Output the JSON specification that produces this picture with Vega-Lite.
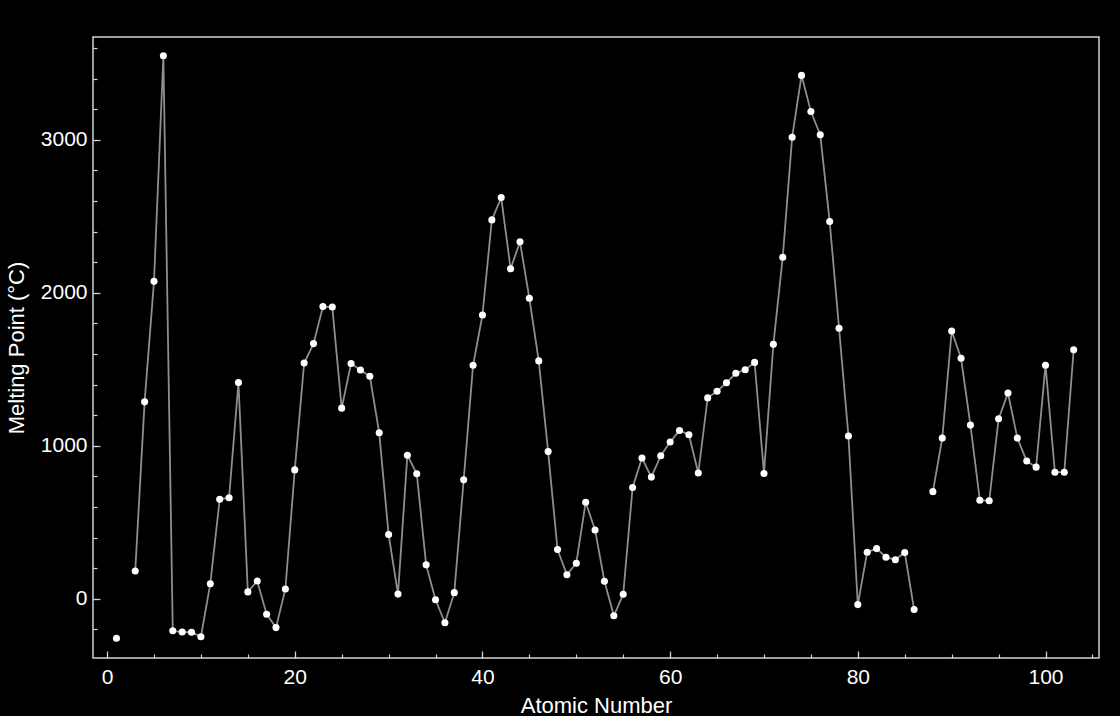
{
  "$schema": "https://vega.github.io/schema/vega-lite/v6.json",
  "autosize": "none",
  "width": 1006,
  "height": 621,
  "padding": {"left": 93, "top": 37, "right": 21, "bottom": 58},
  "background": "#000000",
  "config": {
    "view": {"stroke": "#d4d4d4", "strokeWidth": 1.5, "fill": "#000000"},
    "axis": {
      "domain": false,
      "grid": false,
      "labelFont": "Liberation Sans",
      "labelFontSize": 21,
      "labelColor": "#ffffff",
      "labelFlush": false,
      "titleFont": "Liberation Sans",
      "titleFontSize": 22,
      "titleFontWeight": "normal",
      "titleColor": "#ffffff",
      "tickColor": "#d4d4d4",
      "tickWidth": 1.2
    }
  },
  "data": {
    "values": [
      {"n": 1, "mp": -259.14}, {"n": 2, "mp": null}, {"n": 3, "mp": 180.54}, {"n": 4, "mp": 1287},
      {"n": 5, "mp": 2075}, {"n": 6, "mp": 3550}, {"n": 7, "mp": -210.1}, {"n": 8, "mp": -218.3},
      {"n": 9, "mp": -219.6}, {"n": 10, "mp": -248.59}, {"n": 11, "mp": 97.72}, {"n": 12, "mp": 650},
      {"n": 13, "mp": 660.32}, {"n": 14, "mp": 1414}, {"n": 15, "mp": 44.2}, {"n": 16, "mp": 115.21},
      {"n": 17, "mp": -101.5}, {"n": 18, "mp": -189.3}, {"n": 19, "mp": 63.38}, {"n": 20, "mp": 842},
      {"n": 21, "mp": 1541}, {"n": 22, "mp": 1668}, {"n": 23, "mp": 1910}, {"n": 24, "mp": 1907},
      {"n": 25, "mp": 1246}, {"n": 26, "mp": 1538}, {"n": 27, "mp": 1495}, {"n": 28, "mp": 1455},
      {"n": 29, "mp": 1084.62}, {"n": 30, "mp": 419.53}, {"n": 31, "mp": 29.76}, {"n": 32, "mp": 938.3},
      {"n": 33, "mp": 817}, {"n": 34, "mp": 221}, {"n": 35, "mp": -7.3}, {"n": 36, "mp": -157.36},
      {"n": 37, "mp": 39.31}, {"n": 38, "mp": 777}, {"n": 39, "mp": 1526}, {"n": 40, "mp": 1855},
      {"n": 41, "mp": 2477}, {"n": 42, "mp": 2623}, {"n": 43, "mp": 2157}, {"n": 44, "mp": 2334},
      {"n": 45, "mp": 1964}, {"n": 46, "mp": 1554.9}, {"n": 47, "mp": 961.78}, {"n": 48, "mp": 321.07},
      {"n": 49, "mp": 156.6}, {"n": 50, "mp": 231.93}, {"n": 51, "mp": 630.63}, {"n": 52, "mp": 449.51},
      {"n": 53, "mp": 113.7}, {"n": 54, "mp": -111.8}, {"n": 55, "mp": 28.44}, {"n": 56, "mp": 727},
      {"n": 57, "mp": 920}, {"n": 58, "mp": 795}, {"n": 59, "mp": 935}, {"n": 60, "mp": 1024},
      {"n": 61, "mp": 1100}, {"n": 62, "mp": 1072}, {"n": 63, "mp": 822}, {"n": 64, "mp": 1313},
      {"n": 65, "mp": 1356}, {"n": 66, "mp": 1412}, {"n": 67, "mp": 1474}, {"n": 68, "mp": 1497},
      {"n": 69, "mp": 1545}, {"n": 70, "mp": 819}, {"n": 71, "mp": 1663}, {"n": 72, "mp": 2233},
      {"n": 73, "mp": 3017}, {"n": 74, "mp": 3422}, {"n": 75, "mp": 3186}, {"n": 76, "mp": 3033},
      {"n": 77, "mp": 2466}, {"n": 78, "mp": 1768.3}, {"n": 79, "mp": 1064.18}, {"n": 80, "mp": -38.83},
      {"n": 81, "mp": 304}, {"n": 82, "mp": 327.46}, {"n": 83, "mp": 271.3}, {"n": 84, "mp": 254},
      {"n": 85, "mp": 302}, {"n": 86, "mp": -71}, {"n": 87, "mp": null}, {"n": 88, "mp": 700},
      {"n": 89, "mp": 1050}, {"n": 90, "mp": 1750}, {"n": 91, "mp": 1572}, {"n": 92, "mp": 1135},
      {"n": 93, "mp": 644}, {"n": 94, "mp": 640}, {"n": 95, "mp": 1176}, {"n": 96, "mp": 1345},
      {"n": 97, "mp": 1050}, {"n": 98, "mp": 900}, {"n": 99, "mp": 860}, {"n": 100, "mp": 1527},
      {"n": 101, "mp": 827}, {"n": 102, "mp": 827}, {"n": 103, "mp": 1627}
    ]
  },
  "layer": [
    {
      "mark": {"type": "line", "color": "#8e8e8e", "strokeWidth": 1.8},
      "encoding": {
        "x": {
          "field": "n", "type": "quantitative",
          "scale": {"domain": [-1.5, 105.7], "nice": false, "zero": false},
          "axis": {
            "orient": "bottom",
            "values": [0, 20, 40, 60, 80, 100],
            "format": "d",
            "tickSize": -7,
            "labelPadding": 15,
            "title": "Atomic Number",
            "titleY": 54,
            "titleBaseline": "alphabetic"
          }
        },
        "y": {
          "field": "mp", "type": "quantitative",
          "scale": {"domain": [-388, 3673], "nice": false, "zero": false},
          "axis": {
            "orient": "left",
            "values": [0, 1000, 2000, 3000],
            "format": "d",
            "tickSize": -7,
            "labelPadding": 13,
            "title": "Melting Point (°C)",
            "titleX": -77,
            "titleY": 310.5,
            "titleAngle": -90,
            "titleAlign": "center",
            "titleBaseline": "middle"
          }
        }
      }
    },
    {
      "mark": {"type": "point", "filled": true, "color": "#ffffff", "opacity": 1, "size": 50},
      "encoding": {
        "x": {
          "field": "n", "type": "quantitative",
          "axis": {
            "orient": "bottom",
            "values": [0, 5, 10, 15, 20, 25, 30, 35, 40, 45, 50, 55, 60, 65, 70, 75, 80, 85, 90, 95, 100, 105],
            "tickSize": -4,
            "labels": false,
            "title": null
          }
        },
        "y": {
          "field": "mp", "type": "quantitative",
          "axis": {
            "orient": "left",
            "values": [-200, 0, 200, 400, 600, 800, 1000, 1200, 1400, 1600, 1800, 2000, 2200, 2400, 2600, 2800, 3000, 3200, 3400, 3600],
            "tickSize": -4,
            "labels": false,
            "title": null
          }
        }
      }
    }
  ],
  "resolve": {"axis": {"x": "independent", "y": "independent"}}
}
